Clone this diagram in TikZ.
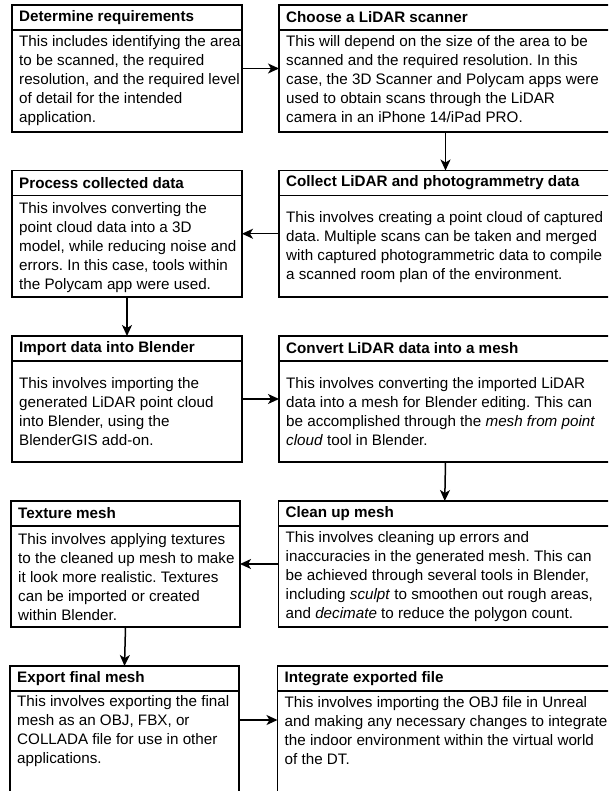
\documentclass[tikz,border=0pt]{standalone}
\usepackage{fontspec}
\setmainfont{Liberation Sans}
\usetikzlibrary{arrows.meta}
\frenchspacing

\tikzset{
  card/.style={draw=black, line width=1.5pt, inner sep=0pt, outer sep=0pt},
  divider/.style={draw=black, line width=1.5pt},
  titletext/.style={font=\fontsize{15.2}{19}\selectfont\bfseries, inner sep=0pt, anchor=west},
  bodytext/.style={font=\fontsize{15.2}{19}\selectfont, align=left, inner sep=0pt, anchor=west},
  flow/.style={line width=1.5pt, -{Stealth[length=11pt,width=10pt,inset=3pt]}},
}

% #1 name, #2 left, #3 top, #4 right, #5 bottom, #6 body centre y, #7 title, #8 body
\newcommand\flowstep[8]{%
  \node[card, anchor=north west, minimum width={#4-#2}, minimum height={#5-#3}] (#1) at (#2,#3) {};%
  \draw[divider] (#2,#3+25) -- (#4,#3+25);%
  \node[titletext] (#1-title) at (#2+7,#3+12.5) {#7};%
  \node[bodytext] (#1-body) at (#2+7,#6) {#8};%
}

\begin{document}
\begin{tikzpicture}[x=1pt, y=-1pt]
\useasboundingbox (0,0) rectangle (608,791);
\fill[white] (0,0) rectangle (608,791);
\clip (0,0) rectangle (608,791);

% row 1
\flowstep{req}{12}{5}{242}{132}{81}{Determine requirements}
  {This includes identifying the area\\to be scanned, the required\\resolution, and the required level\\of detail for the intended\\application.}
\flowstep{scanner}{279}{5}{612}{132}{79}{Choose a LiDAR scanner}
  {This will depend on the size of the area to be\\scanned and the required resolution. In this\\case, the 3D Scanner and Polycam apps were\\used to obtain scans through the LiDAR\\camera in an iPhone 14/iPad PRO.}

% row 2
\flowstep{process}{12}{170.5}{242}{297}{248}{Process collected data}
  {This involves converting the\\point cloud data into a 3D\\model, while reducing noise and\\errors. In this case, tools within\\the Polycam app were used.}
\flowstep{collect}{279}{170.5}{612}{297}{247}{Collect LiDAR and photogrammetry data}
  {This involves creating a point cloud of captured\\data. Multiple scans can be taken and merged\\with captured photogrammetric data to compile\\a scanned room plan of the environment.}

% row 3
\flowstep{import}{12}{336}{242}{462}{412}{Import data into Blender}
  {This involves importing the\\generated LiDAR point cloud\\into Blender, using the\\BlenderGIS add-on.}
\flowstep{convert}{279}{336}{612}{462}{412}{Convert LiDAR data into a mesh}
  {This involves converting the imported LiDAR\\data into a mesh for Blender editing. This can\\be accomplished through the \textit{mesh from point}\\\textit{cloud} tool in Blender.}

% row 4
\flowstep{texture}{11}{501}{240}{627}{577}{Texture mesh}
  {This involves applying textures\\to the cleaned up mesh to make\\it look more realistic. Textures\\can be imported or created\\within Blender.}
\flowstep{clean}{278.5}{501}{611}{627}{577}{Clean up mesh}
  {This involves cleaning up errors and\\inaccuracies in the generated mesh. This can\\be achieved through several tools in Blender,\\including \textit{sculpt} to smoothen out rough areas,\\and \textit{decimate} to reduce the polygon count.}

% row 5 (runs past the lower edge)
\flowstep{export}{10}{666}{239}{830}{731}{Export final mesh}
  {This involves exporting the final\\mesh as an OBJ, FBX, or\\COLLADA file for use in other\\applications.}
\flowstep{integrate}{277.5}{666}{610}{830}{731}{Integrate exported file}
  {This involves importing the OBJ file in Unreal\\and making any necessary changes to integrate\\the indoor environment within the virtual world\\of the DT.}

% connectors
\draw[flow] (req.east) -- (scanner.west);
\draw[flow] (scanner.south) -- (collect.north);
\draw[flow] (collect.west) -- (process.east);
\draw[flow] (process.south) -- (import.north);
\draw[flow] (import.east) -- (convert.west);
\draw[flow] (convert.south) -- (clean.north);
\draw[flow] (clean.west) -- (texture.east);
\draw[flow] (texture.south) -- (export.north);
\draw[flow] ([yshift=-54pt]export.north east) -- ([yshift=-54pt]integrate.north west);
\end{tikzpicture}
\end{document}
